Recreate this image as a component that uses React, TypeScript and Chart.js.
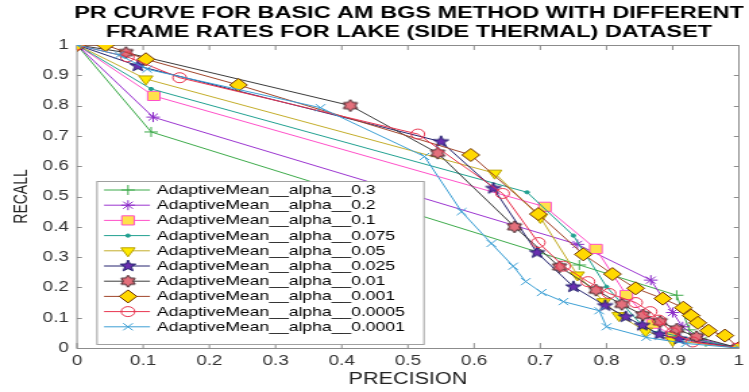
import React, { useEffect, useRef } from 'react';
import { Chart, registerables, PointElement } from 'chart.js';

Chart.register(...registerables);

// ---- canvas geometry (picture is horizontally stretched) ----
const CSS_W = 749;
const CSS_H = 392;
const CW = 555;
const S = CSS_W / CW;
const FONT = '"Liberation Sans", Arial, Helvetica, sans-serif';

// ---- texts ----
const titleLines = [
  'PR CURVE FOR BASIC AM BGS METHOD WITH DIFFERENT',
  'FRAME RATES FOR LAKE (SIDE THERMAL) DATASET',
];
const xAxisTitle = 'PRECISION';
const yAxisTitle = 'RECALL';
const tickValues = [0, 0.1, 0.2, 0.3, 0.4, 0.5, 0.6, 0.7, 0.8, 0.9, 1];
const xTickLabels = ['0', '0.1', '0.2', '0.3', '0.4', '0.5', '0.6', '0.7', '0.8', '0.9', '1'];
const yTickLabels = ['0', '0.1', '0.2', '0.3', '0.4', '0.5', '0.6', '0.7', '0.8', '0.9', '1'];

const seriesLabels = [
  'AdaptiveMean__alpha__0.3',
  'AdaptiveMean__alpha__0.2',
  'AdaptiveMean__alpha__0.1',
  'AdaptiveMean__alpha__0.075',
  'AdaptiveMean__alpha__0.05',
  'AdaptiveMean__alpha__0.025',
  'AdaptiveMean__alpha__0.01',
  'AdaptiveMean__alpha__0.001',
  'AdaptiveMean__alpha__0.0005',
  'AdaptiveMean__alpha__0.0001',
];

// ---- data (precision = x, recall = y) ----
const precisionA03 = [0, 0.112, 0.759, 0.906, 0.925, 0.95, 1];
const recallA03 = [1, 0.713, 0.274, 0.174, 0.06, 0.02, 0];

const precisionA02 = [0, 0.115, 0.756, 0.867, 0.9, 0.915, 0.94, 1];
const recallA02 = [1, 0.762, 0.342, 0.224, 0.117, 0.07, 0.03, 0];

const precisionA01 = [0, 0.116, 0.707, 0.784, 0.83, 0.87, 0.9, 1];
const recallA01 = [1, 0.832, 0.466, 0.327, 0.175, 0.08, 0.04, 0];

const precisionA0075 = [0, 0.112, 0.68, 0.75, 0.8, 0.86, 1];
const recallA0075 = [1, 0.855, 0.514, 0.371, 0.202, 0.06, 0];

const precisionA005 = [0, 0.104, 0.631, 0.7, 0.756, 0.796, 0.819, 0.859, 0.9, 1];
const recallA005 = [1, 0.888, 0.577, 0.431, 0.241, 0.153, 0.107, 0.056, 0.025, 0];

const precisionA0025 = [0, 0.092, 0.55, 0.629, 0.695, 0.75, 0.798, 0.829, 0.854, 0.88, 0.91, 1];
const recallA0025 = [1, 0.931, 0.681, 0.527, 0.315, 0.202, 0.14, 0.103, 0.075, 0.045, 0.03, 0];

const precisionA001 = [0, 0.074, 0.413, 0.545, 0.661, 0.729, 0.784, 0.823, 0.855, 0.881, 0.906, 0.936, 1];
const recallA001 = [1, 0.975, 0.8, 0.643, 0.4, 0.268, 0.191, 0.144, 0.109, 0.087, 0.062, 0.037, 0];

const precisionA0001 = [0, 0.043, 0.104, 0.244, 0.595, 0.697, 0.765, 0.809, 0.844, 0.885, 0.916, 0.928, 0.938, 0.954, 0.979, 1];
const recallA0001 = [1, 1, 0.953, 0.868, 0.637, 0.442, 0.309, 0.244, 0.197, 0.163, 0.133, 0.107, 0.083, 0.057, 0.041, 0];

const precisionA00005 = [0, 0.076, 0.155, 0.515, 0.643, 0.697, 0.735, 0.772, 0.804, 0.844, 0.866, 0.879, 0.9, 0.93, 1];
const recallA00005 = [1, 0.961, 0.892, 0.706, 0.51, 0.348, 0.27, 0.219, 0.18, 0.15, 0.12, 0.092, 0.05, 0.02, 0];

const precisionA00001 = [0, 0.064, 0.106, 0.368, 0.525, 0.581, 0.626, 0.659, 0.678, 0.702, 0.735, 0.789, 0.8, 0.86, 0.92, 1];
const recallA00001 = [1, 0.967, 0.92, 0.793, 0.632, 0.45, 0.345, 0.27, 0.219, 0.183, 0.153, 0.123, 0.07, 0.035, 0.015, 0];

const precisionSeries = [
  precisionA03, precisionA02, precisionA01, precisionA0075, precisionA005,
  precisionA0025, precisionA001, precisionA0001, precisionA00005, precisionA00001,
];
const recallSeries = [
  recallA03, recallA02, recallA01, recallA0075, recallA005,
  recallA0025, recallA001, recallA0001, recallA00005, recallA00001,
];

// ---- marker images ----
function makeStar(points: number, outer: number, innerRatio: number, face: string, edge: string) {
  const size = Math.ceil(outer * 2 + 4);
  const c = document.createElement('canvas');
  c.width = size;
  c.height = size;
  const g = c.getContext('2d') as CanvasRenderingContext2D;
  const cx = size / 2;
  const cy = size / 2;
  g.beginPath();
  for (let k = 0; k < points * 2; k++) {
    const r = k % 2 === 0 ? outer : outer * innerRatio;
    const a = -Math.PI / 2 + (k * Math.PI) / points;
    const px = cx + r * Math.cos(a);
    const py = cy + r * Math.sin(a);
    if (k === 0) g.moveTo(px, py);
    else g.lineTo(px, py);
  }
  g.closePath();
  g.fillStyle = face;
  g.fill();
  g.lineWidth = 1;
  g.strokeStyle = edge;
  g.stroke();
  return c;
}

type Style = {
  line: string;
  marker: any;
  radius: number;
  face: string;
  edge: string;
  rotation?: number;
};

function buildStyles(): Style[] {
  const pentagram = makeStar(5, 6, 0.42, '#6a2fb0', '#1d1b6a');
  const hexagram = makeStar(6, 6, 0.6, '#e4707c', '#3a1c22');
  return [
    { line: '#3daa4a', marker: 'cross', radius: 5, face: '#3daa4a', edge: '#3daa4a' },
    { line: '#9b35d0', marker: 'star', radius: 5, face: '#9b35d0', edge: '#8a2bc8' },
    { line: '#ff4fc8', marker: 'rect', radius: 6.5, face: '#ffe14a', edge: '#ff4fc8' },
    { line: '#20a090', marker: 'circle', radius: 1.6, face: '#20a090', edge: '#20a090' },
    { line: '#c3ad2a', marker: 'triangle', radius: 6, face: '#ffea00', edge: '#b9a200', rotation: 180 },
    { line: '#24236e', marker: pentagram, radius: 6, face: '#6a2fb0', edge: '#1d1b6a' },
    { line: '#3a3a3a', marker: hexagram, radius: 6, face: '#e4707c', edge: '#3a1c22' },
    { line: '#a0452a', marker: 'rectRot', radius: 6.5, face: '#ffd800', edge: '#6b2e00' },
    { line: '#e8344f', marker: 'circle', radius: 5, face: 'rgba(0,0,0,0)', edge: '#e8344f' },
    { line: '#3c9fd4', marker: 'crossRot', radius: 5, face: '#3c9fd4', edge: '#3c9fd4' },
  ];
}

const BIG_AREA = { left: -1e4, top: -1e4, right: 1e4, bottom: 1e4 };

export default function App() {
  const ref = useRef<HTMLCanvasElement | null>(null);

  useEffect(() => {
    const canvas = ref.current;
    if (!canvas) return;
    const styles = buildStyles();

    const datasets = seriesLabels.map((label, i) => {
      const st = styles[i];
      return {
        label,
        data: precisionSeries[i].map((x, j) => ({ x, y: recallSeries[i][j] })),
        showLine: true,
        borderColor: st.line,
        borderWidth: 1,
        tension: 0,
        pointStyle: st.marker,
        pointRadius: st.radius,
        pointHoverRadius: st.radius,
        pointRotation: st.rotation || 0,
        pointBackgroundColor: st.face,
        pointBorderColor: st.edge,
        pointBorderWidth: 1,
        order: seriesLabels.length - i,
      };
    });

    const framePlugin = {
      id: 'frame',
      beforeDatasetsDraw(chart: any) {
        const { ctx, chartArea } = chart;
        const { left, right, top, bottom } = chartArea;
        const xs = chart.scales.x;
        const ys = chart.scales.y;
        ctx.save();
        ctx.strokeStyle = '#8c8c8c';
        ctx.lineWidth = 1;
        ctx.strokeRect(left, top + 0.5, right - left, bottom - top);
        ctx.beginPath();
        tickValues.forEach((v) => {
          const px = xs.getPixelForValue(v);
          ctx.moveTo(px, bottom);
          ctx.lineTo(px, bottom - 5);
          ctx.moveTo(px, top);
          ctx.lineTo(px, top + 5);
          const py = Math.round(ys.getPixelForValue(v)) + 0.5;
          ctx.moveTo(left, py);
          ctx.lineTo(left + 5 / S, py);
          ctx.moveTo(right, py);
          ctx.lineTo(right - 5 / S, py);
        });
        ctx.stroke();
        ctx.restore();
      },
    };

    const titlePlugin = {
      id: 'twoLineTitle',
      afterDraw(chart: any) {
        const ctx = chart.ctx;
        ctx.save();
        ctx.font = `bold 17.4px ${FONT}`;
        ctx.fillStyle = '#000';
        ctx.textAlign = 'center';
        ctx.textBaseline = 'middle';
        ctx.fillText(titleLines[0], 409 / S, 13);
        ctx.fillText(titleLines[1], 409 / S, 32);
        ctx.restore();
      },
    };

    const legendPlugin = {
      id: 'insideLegend',
      afterDatasetsDraw(chart: any) {
        const ctx = chart.ctx;
        const bx0 = 97 / S;
        const bx1 = 424 / S;
        const by0 = 181;
        const by1 = 344;
        ctx.save();
        ctx.fillStyle = '#ffffff';
        ctx.fillRect(bx0, by0, bx1 - bx0, by1 - by0);
        ctx.strokeStyle = '#a0a0a0';
        ctx.lineWidth = 1;
        ctx.strokeRect(bx0, by0 + 0.5, bx1 - bx0, by1 - by0);
        seriesLabels.forEach((label, i) => {
          const st = styles[i];
          const y = 190 + i * 15.2;
          ctx.strokeStyle = st.line;
          ctx.lineWidth = 1;
          ctx.beginPath();
          ctx.moveTo(104 / S, y);
          ctx.lineTo(150 / S, y);
          ctx.stroke();
          const pt: any = new (PointElement as any)({
            x: 128 / S,
            y,
            options: {
              pointStyle: st.marker,
              radius: st.radius,
              rotation: st.rotation || 0,
              borderWidth: 1,
              backgroundColor: st.face,
              borderColor: st.edge,
            },
          });
          pt.draw(ctx, BIG_AREA);
          ctx.fillStyle = '#000';
          ctx.font = `13px ${FONT}`;
          ctx.textAlign = 'left';
          ctx.textBaseline = 'middle';
          ctx.fillText(label, 157 / S, y + 0.5);
        });
        ctx.restore();
      },
    };

    const chart = new Chart(canvas, {
      type: 'scatter',
      data: { datasets: datasets as any },
      options: {
        responsive: false,
        animation: false,
        devicePixelRatio: 1,
        layout: { padding: { left: 0, right: CW - 748 / S, top: 45, bottom: 0 } },
        plugins: {
          legend: { display: false },
          title: { display: false },
          tooltip: { enabled: false },
        },
        scales: {
          x: {
            type: 'linear',
            min: 0,
            max: 1,
            grid: { display: false, drawTicks: false },
            border: { display: false },
            afterBuildTicks: (s: any) => {
              s.ticks = tickValues.map((v) => ({ value: v }));
            },
            afterFit: (s: any) => {
              s.height = 44;
              s.paddingLeft = 0;
              s.paddingRight = 0;
            },
            ticks: {
              autoSkip: false,
              maxRotation: 0,
              padding: 5,
              color: '#333333',
              font: { family: FONT, size: 14 },
              callback: (_v: any, i: number) => xTickLabels[i],
            },
            title: {
              display: true,
              text: xAxisTitle,
              color: '#222222',
              font: { family: FONT, size: 16 },
              padding: { top: 0, bottom: 3 },
            },
          },
          y: {
            type: 'linear',
            min: 0,
            max: 1,
            grid: { display: false, drawTicks: false },
            border: { display: false },
            afterBuildTicks: (s: any) => {
              s.ticks = tickValues.map((v) => ({ value: v }));
            },
            afterFit: (s: any) => {
              s.width = 77 / S;
            },
            ticks: {
              autoSkip: false,
              padding: 6,
              color: '#333333',
              font: { family: FONT, size: 14 },
              callback: (_v: any, i: number) => yTickLabels[i],
            },
            title: {
              display: true,
              text: yAxisTitle,
              color: '#222222',
              font: { family: FONT, size: 14 },
              padding: { top: 8, bottom: 0 },
            },
          },
        },
      } as any,
      plugins: [framePlugin, legendPlugin, titlePlugin],
    });

    return () => {
      chart.destroy();
    };
  }, []);

  return (
    <div style={{ position: 'fixed', left: 0, top: 0, width: CSS_W, height: CSS_H, background: '#ffffff' }}>
      <canvas
        ref={ref}
        width={CW}
        height={CSS_H}
        style={{ width: `${CSS_W}px`, height: `${CSS_H}px`, display: 'block' }}
      />
    </div>
  );
}
